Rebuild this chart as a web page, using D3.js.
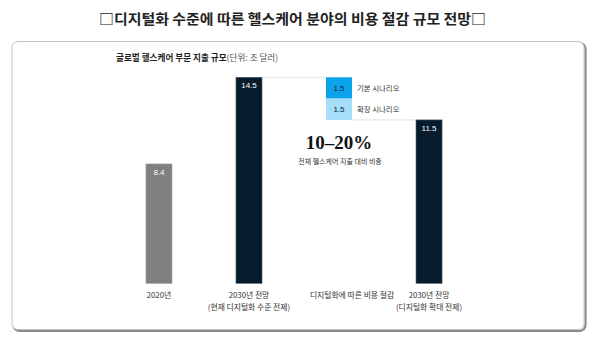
<!DOCTYPE html>
<html><head><meta charset="utf-8">
<script src="https://cdn.jsdelivr.net/npm/d3@7"></script>
<style>html,body{margin:0;padding:0;background:#fff;}</style>
</head><body>
<svg id="c" width="605" height="340"></svg>
<script>
// ---- data ----
const title = "□디지털화 수준에 따른 헬스케어 분야의 비용 절감 규모 전망□";
const subtitleBold = "글로벌 헬스케어 부문 지출 규모";
const subtitleUnit = "(단위: 조 달러)";
const categories = ["2020년", "2030년 전망", "디지털화에 따른 비용 절감", "2030년 전망 "];
const catSubLabels = ["", "(현재 디지털화 수준 전제)", "", "(디지털화 확대 전제)"];
const barValues = [8.4, 14.5, null, 11.5];
const savingsLabels = ["기본 시나리오", "확장 시나리오"];
const savingsValues = [1.5, 1.5];
const shareText = "10–20%";
const shareNote = "전체 헬스케어 지출 대비 비중";

const svg = d3.select("#c");
const KR = "'Noto Sans CJK KR','Noto Sans',sans-serif";

// frame
svg.append("rect").attr("x",13.5).attr("y",43).attr("width",572).attr("height",288)
  .attr("rx",6).attr("fill","none").attr("stroke","#8a8a8a").attr("stroke-width",2.2);
svg.append("rect").attr("x",12).attr("y",41.5).attr("width",572).attr("height",288)
  .attr("rx",6).attr("fill","#fff").attr("stroke","#c4c4c4").attr("stroke-width",1);

// title
svg.append("text").attr("x",99).attr("y",24).attr("font-family",KR).attr("font-weight",700)
  .attr("font-size",14).attr("fill","#222").attr("textLength",387).attr("lengthAdjust","spacingAndGlyphs").text(title);

const st = svg.append("text").attr("x",116).attr("y",61).attr("font-family",KR).attr("font-size",8.6).attr("fill","#222");
st.append("tspan").attr("font-weight",700).text(subtitleBold);
st.append("tspan").attr("fill","#555").text(subtitleUnit);

// scales
const x = d3.scaleBand().domain(categories).range([114, 474]).paddingInner(0.711).paddingOuter(0.355);
const y = d3.scaleLinear().domain([0, 14.5]).range([283.3, 77.3]);
const bw = x.bandwidth();

// savings stacked (waterfall)
const startVal = barValues[1];
let cum = startVal;
const segs = savingsValues.map((v,i)=>{ const s={hi:cum, lo:cum-v, v, label:savingsLabels[i]}; cum-=v; return s; });
const segColors = ["#0aa2ea", "#a6ddf8"];

// connector lines
const g = svg.append("g");
g.append("line").attr("x1",x(categories[1])+bw).attr("x2",x(categories[2]))
  .attr("y1",y(startVal)).attr("y2",y(startVal)).attr("stroke","#dcdcdc").attr("stroke-width",0.8);
g.append("line").attr("x1",x(categories[2])+bw).attr("x2",x(categories[3]))
  .attr("y1",y(cum)).attr("y2",y(cum)).attr("stroke","#dcdcdc").attr("stroke-width",0.8);

// bars
const barColors = ["#808080", "#061b2c", null, "#061b2c"];
categories.forEach((c,i)=>{
  if (barValues[i]==null) return;
  g.append("rect").attr("x",x(c)).attr("y",y(barValues[i])).attr("width",bw)
    .attr("height",y(0)-y(barValues[i])).attr("fill",barColors[i])
    .attr("stroke", i===0 ? "#9a9a9a" : "#4d5b66").attr("stroke-width",0.6);
  g.append("text").attr("x",x(c)+bw/2).attr("y",y(barValues[i])+11).attr("text-anchor","middle")
    .attr("font-family","'Liberation Sans',Arial,sans-serif").attr("font-size",8).attr("fill","#fff").text(barValues[i]);
});

segs.forEach((s,i)=>{
  const c = categories[2];
  g.append("rect").attr("x",x(c)).attr("y",y(s.hi)).attr("width",bw).attr("height",y(s.lo)-y(s.hi))
    .attr("fill",segColors[i]);
  g.append("text").attr("x",x(c)+bw/2).attr("y",(y(s.hi)+y(s.lo))/2+3).attr("text-anchor","middle")
    .attr("font-family","'Liberation Sans',Arial,sans-serif").attr("font-size",8).attr("fill","#0b2033").text(s.v);
  g.append("text").attr("x",x(c)+bw+5).attr("y",(y(s.hi)+y(s.lo))/2+3).attr("font-family",KR)
    .attr("font-size",7.4).attr("fill","#333").text(s.label);
});

// share annotation
const cx = x(categories[2])+bw/2;
g.append("text").attr("x",cx).attr("y",149).attr("text-anchor","middle")
  .attr("font-family","'Liberation Serif','DejaVu Serif',serif").attr("font-size",19).attr("font-weight",600)
  .attr("fill","#111").text(shareText);
g.append("text").attr("x",cx+1).attr("y",163.5).attr("text-anchor","middle")
  .attr("font-family",KR).attr("font-size",7).attr("fill","#333").text(shareNote);

// category labels
categories.forEach((c,i)=>{
  const off = i===2 ? 13 : 0;
  g.append("text").attr("x",x(c)+bw/2+off).attr("y",298).attr("text-anchor","middle")
    .attr("font-family",KR).attr("font-size",7.8).attr("fill","#333").text(c.trim());
  if (catSubLabels[i]) g.append("text").attr("x",x(c)+bw/2).attr("y",310).attr("text-anchor","middle")
    .attr("font-family",KR).attr("font-size",7.8).attr("fill","#333").text(catSubLabels[i]);
});
</script>
</body></html>
